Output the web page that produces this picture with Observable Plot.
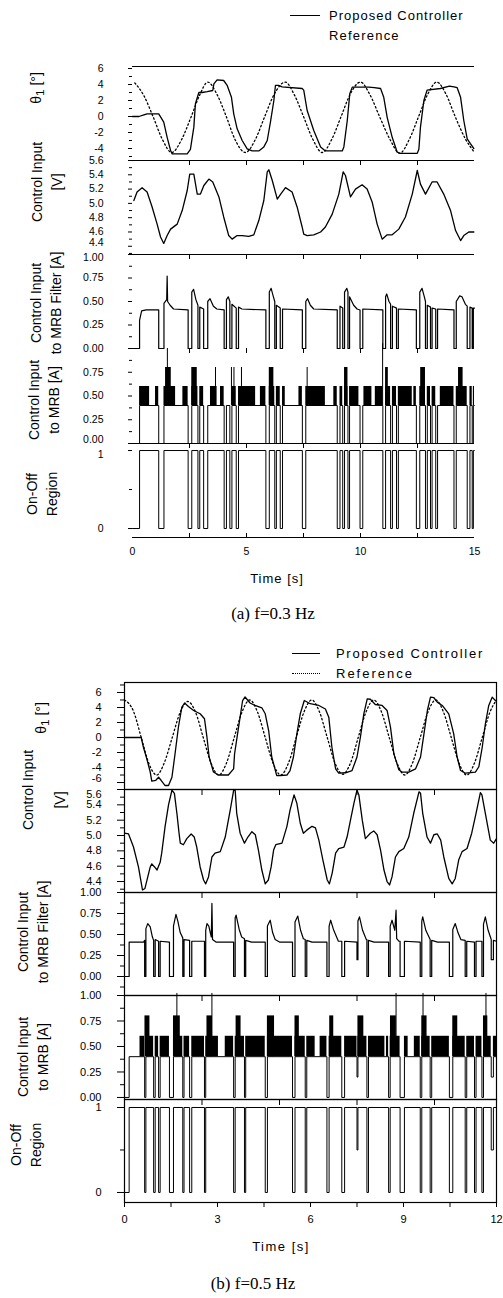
<!DOCTYPE html>
<html><head><meta charset="utf-8">
<script src="https://cdn.jsdelivr.net/npm/d3@7"></script>
<script src="https://cdn.jsdelivr.net/npm/@observablehq/plot@0.6"></script>
<style>
html,body{margin:0;padding:0;background:#fff;}
#root{position:relative;width:503px;height:1298px;overflow:hidden;font-family:'Liberation Sans',Arial,sans-serif;color:#000;}
#root svg{position:absolute;left:0;}
.t{position:absolute;white-space:nowrap;line-height:1;}
.rot{position:absolute;transform:translate(-50%,-50%) rotate(-90deg);white-space:pre;text-align:center;font-size:14px;line-height:20px;}
.cap{position:absolute;transform:translate(-50%,-50%);white-space:nowrap;font-family:'Liberation Serif','Times New Roman',serif;font-size:17px;}
</style></head><body><div id="root"></div>
<script>
// ================= DATA =================
// (a) f = 0.3 Hz   [time s, value]
const thetaPropA = [[0,0],[0.28,0],[0.5,0.2],[0.64,0.33],[1.15,0.33],[1.37,-0.7],[1.52,-2.6],[1.67,-4.25],[1.74,-4.67],[2.40,-4.67],[2.54,-4.1],[2.69,-1.33],[2.76,1.6],[2.91,3.0],[3.05,3.0],[3.28,3.1],[3.52,3.25],[3.57,4.08],[3.71,4.58],[4.0,4.5],[4.15,3.9],[4.34,2.4],[4.44,0.33],[4.59,-1.54],[4.81,-3.0],[5.03,-4.04],[5.25,-4.3],[5.54,-4.3],[5.76,-3.8],[5.91,-3.0],[6.05,-0.7],[6.2,2.0],[6.27,3.9],[6.4,3.9],[6.56,3.7],[7.44,3.5],[7.51,3.3],[7.66,0.75],[7.95,-1.75],[8.25,-3.8],[8.46,-4.3],[9.2,-4.3],[9.27,-3.8],[9.42,-0.5],[9.53,2.84],[9.64,3.67],[10.37,3.67],[10.6,3.6],[10.88,3.5],[11.02,2.4],[11.17,-0.1],[11.39,-2.6],[11.61,-4.46],[11.75,-4.6],[12.49,-4.6],[12.56,-4.1],[12.63,-1.33],[12.78,2.0],[12.92,3.3],[13.5,3.5],[13.9,3.8],[14.1,3.7],[14.24,3.6],[14.39,2.4],[14.53,-0.5],[14.68,-2.8],[14.82,-3.4],[14.97,-4.0]];
const thetaRefA = [[0.1,4.2],[0.5,2.6],[0.9,0.0],[1.3,-2.8],[1.72,-4.5],[2.15,-2.9],[2.55,-0.2],[2.95,2.7],[3.3,4.3],[3.7,2.8],[4.1,0.1],[4.5,-2.9],[4.95,-4.5],[5.4,-2.8],[5.8,0.0],[6.2,2.7],[6.7,4.3],[7.1,2.7],[7.5,0.0],[7.9,-2.8],[8.32,-4.5],[8.75,-2.8],[9.15,0.0],[9.55,2.8],[10.0,4.3],[10.4,2.8],[10.85,-0.1],[11.3,-2.9],[11.72,-4.6],[12.15,-2.8],[12.55,0.0],[12.95,2.8],[13.35,4.3],[13.75,2.8],[14.15,0.0],[14.6,-2.8],[15.0,-4.5]];
const voltA = [[0.06,5.04],[0.2,5.16],[0.42,5.22],[0.64,5.16],[0.86,4.95],[1.08,4.71],[1.23,4.53],[1.37,4.44],[1.52,4.55],[1.67,4.64],[1.96,4.71],[2.18,4.9],[2.40,5.18],[2.51,5.41],[2.69,5.41],[2.84,5.13],[2.98,5.13],[3.13,5.25],[3.35,5.34],[3.52,5.3],[3.79,5.09],[4.0,4.81],[4.22,4.55],[4.37,4.5],[4.59,4.55],[4.81,4.55],[5.1,4.54],[5.32,4.56],[5.54,4.76],[5.76,5.04],[5.91,5.44],[5.98,5.47],[6.13,5.32],[6.35,5.06],[6.5,5.13],[6.71,5.22],[7.0,5.16],[7.22,4.95],[7.44,4.67],[7.51,4.57],[7.66,4.55],[7.95,4.56],[8.25,4.6],[8.46,4.67],[8.76,4.85],[9.05,5.13],[9.24,5.44],[9.34,5.39],[9.56,5.09],[9.78,5.2],[10.07,5.26],[10.29,5.2],[10.51,5.02],[10.73,4.71],[10.95,4.5],[11.17,4.56],[11.39,4.56],[11.68,4.64],[11.97,4.81],[12.27,5.13],[12.49,5.46],[12.63,5.27],[12.85,5.13],[13.14,5.3],[13.36,5.3],[13.65,5.13],[13.95,4.9],[14.17,4.62],[14.39,4.48],[14.53,4.55],[14.75,4.6],[14.97,4.6]];
const filterA = [[0,0],[0.31,0],[0.31,0.3],[0.4,0.4],[0.6,0.41],[1.15,0.41],[1.15,0],[1.38,0],[1.38,0.48],[1.5,0.52],[1.52,0.77],[1.54,0.5],[1.65,0.46],[1.8,0.42],[2.44,0.41],[2.44,0],[2.6,0],[2.6,0.6],[2.68,0.63],[2.78,0.52],[2.87,0.46],[2.87,0],[2.95,0],[2.95,0.44],[3.12,0.42],[3.12,0],[3.3,0],[3.3,0.5],[3.4,0.53],[3.55,0.45],[3.7,0.42],[4.02,0.41],[4.02,0],[4.12,0],[4.12,0.52],[4.2,0.55],[4.27,0.5],[4.27,0],[4.36,0],[4.36,0.47],[4.55,0.43],[4.55,0],[4.65,0],[4.65,0.44],[4.8,0.42],[5.85,0.41],[5.85,0],[6.0,0],[6.0,0.6],[6.08,0.64],[6.18,0.55],[6.24,0.5],[6.24,0],[6.31,0],[6.31,0.46],[6.48,0.43],[6.48,0],[6.58,0],[6.58,0.42],[7.45,0.41],[7.45,0],[7.6,0],[7.6,0.5],[7.68,0.53],[7.8,0.46],[7.95,0.42],[8.98,0.41],[8.98,0],[9.1,0],[9.1,0.45],[9.22,0.43],[9.22,0],[9.3,0],[9.3,0.6],[9.4,0.64],[9.45,0.6],[9.45,0],[9.52,0],[9.52,0.55],[9.7,0.46],[9.85,0.42],[9.98,0.41],[9.98,0],[10.1,0],[10.1,0.42],[10.98,0.41],[10.98,0],[11.1,0],[11.1,0.55],[11.15,0.58],[11.25,0.5],[11.32,0.47],[11.32,0],[11.4,0],[11.4,0.45],[11.58,0.43],[11.58,0],[11.66,0],[11.66,0.42],[12.45,0.41],[12.45,0],[12.6,0],[12.6,0.6],[12.7,0.64],[12.8,0.55],[12.85,0.5],[12.85,0],[12.93,0],[12.93,0.46],[13.07,0.44],[13.07,0],[13.14,0],[13.14,0.43],[13.3,0.42],[13.3,0],[13.38,0],[13.38,0.42],[14.1,0.41],[14.1,0],[14.2,0],[14.2,0.5],[14.35,0.56],[14.45,0.55],[14.6,0.47],[14.68,0.45],[14.68,0],[14.8,0],[14.8,0.44],[14.9,0.43],[14.9,0],[14.95,0],[14.95,0.43],[15,0.43]];
const onoffA = [[0,0],[0.31,1],[1.15,0],[1.38,1],[2.44,0],[2.6,1],[2.87,0],[2.95,1],[3.12,0],[3.3,1],[4.02,0],[4.12,1],[4.27,0],[4.36,1],[4.55,0],[4.65,1],[5.85,0],[6.0,1],[6.24,0],[6.31,1],[6.48,0],[6.58,1],[7.45,0],[7.6,1],[8.98,0],[9.1,1],[9.22,0],[9.3,1],[9.45,0],[9.52,1],[9.98,0],[10.1,1],[10.98,0],[11.1,1],[11.32,0],[11.4,1],[11.58,0],[11.66,1],[12.45,0],[12.6,1],[12.85,0],[12.93,1],[13.07,0],[13.14,1],[13.3,0],[13.38,1],[14.1,0],[14.2,1],[14.68,0],[14.8,1],[14.9,0],[14.95,1],[15,1]];
const mrbBandA = [[0.31,0.75],[1.01,1.15],[1.38,1.89],[2.21,2.44],[2.6,2.87],[2.95,3.12],[3.42,3.71],[3.86,4.02],[4.36,4.55],[4.65,5.4],[5.61,5.85],[6.0,6.24],[6.31,6.48],[6.58,6.7],[7.3,7.45],[7.6,8.46],[8.83,8.98],[9.1,9.22],[9.3,9.45],[9.52,9.93],[10.15,10.5],[10.65,10.98],[11.1,11.32],[11.4,11.58],[11.66,12.27],[12.34,12.45],[12.6,12.85],[12.93,13.07],[13.14,13.3],[13.5,14.1],[14.2,14.68],[14.8,14.9],[14.95,15]];
const mrbHighA = [[1.45,1.7],[2.6,2.84],[6.0,6.2],[9.3,9.45],[11.1,11.22],[12.64,12.85],[14.3,14.5]];
const mrbThinA = [[3.64,0.8],[4.34,0.8],[4.45,0.8],[4.78,0.8],[7.66,0.8],[1.53,1.0],[10.97,1.05]];

// (b) f = 0.5 Hz
const thetaPropB = [[0,0],[0.54,0],[0.61,-1.3],[0.72,-2.85],[0.83,-4.6],[0.88,-5.8],[1.01,-5.7],[1.10,-5.3],[1.18,-5.7],[1.31,-6.4],[1.42,-6.4],[1.53,-5.3],[1.63,-2.2],[1.74,1.4],[1.85,4.04],[1.94,4.6],[2.06,4.13],[2.23,3.6],[2.44,3.16],[2.58,2.5],[2.66,0.04],[2.73,-2.6],[2.87,-4.6],[3.03,-5.0],[3.35,-5.0],[3.52,-4.18],[3.55,-2.2],[3.68,1.38],[3.81,4.93],[3.89,5.4],[4.05,4.6],[4.21,4.27],[4.43,3.96],[4.54,3.16],[4.65,0.93],[4.75,-2.6],[4.91,-5.07],[5.02,-5.07],[5.24,-5.0],[5.34,-4.4],[5.45,-2.6],[5.56,0.49],[5.67,3.16],[5.8,4.93],[5.99,4.5],[6.27,4.27],[6.48,3.8],[6.59,2.71],[6.69,-1.3],[6.81,-4.18],[6.91,-4.76],[7.13,-4.7],[7.34,-4.4],[7.5,-2.6],[7.61,0.04],[7.72,3.16],[7.83,5.16],[7.93,5.1],[8.09,4.4],[8.31,4.27],[8.47,3.6],[8.58,1.38],[8.69,-2.18],[8.85,-4.3],[8.96,-4.62],[9.17,-4.62],[9.39,-4.18],[9.55,-2.6],[9.66,0.49],[9.77,3.6],[9.87,5.38],[9.98,5.3],[10.09,4.71],[10.25,4.27],[10.46,3.16],[10.62,0.49],[10.73,-2.6],[10.84,-4.4],[11.0,-4.76],[11.32,-4.62],[11.43,-3.9],[11.54,-1.3],[11.64,1.8],[11.75,4.27],[11.86,5.38],[11.97,4.9]];
const thetaRefB = [[0,5.0],[0.29,3.5],[0.54,0],[0.79,-3.5],[1.04,-5.0],[1.29,-3.3],[1.54,0],[1.79,3.3],[2.04,4.8],[2.29,3.4],[2.54,0],[2.79,-3.4],[3.04,-5.0],[3.29,-3.4],[3.54,0],[3.79,3.4],[4.04,5.0],[4.29,3.4],[4.54,0],[4.79,-3.4],[5.04,-5.0],[5.29,-3.4],[5.54,0],[5.79,3.4],[6.04,5.0],[6.29,3.4],[6.54,0],[6.79,-3.4],[7.04,-4.9],[7.29,-3.4],[7.54,0],[7.79,3.4],[8.04,5.0],[8.29,3.4],[8.54,0],[8.79,-3.4],[9.04,-5.0],[9.29,-3.4],[9.54,0],[9.79,3.4],[10.04,5.0],[10.29,3.4],[10.54,0],[10.79,-3.4],[11.04,-5.0],[11.29,-3.4],[11.54,0],[11.79,3.4],[12.0,5.0]];
const voltB = [[0,5.03],[0.13,5.02],[0.29,4.85],[0.45,4.59],[0.58,4.29],[0.66,4.31],[0.83,4.59],[0.88,4.63],[0.97,4.59],[1.05,4.55],[1.15,4.65],[1.2,4.77],[1.31,5.12],[1.42,5.4],[1.53,5.59],[1.61,5.55],[1.69,5.29],[1.76,5.03],[1.8,4.9],[1.9,4.88],[2.01,4.96],[2.15,5.02],[2.25,4.98],[2.33,4.85],[2.44,4.59],[2.55,4.42],[2.62,4.37],[2.71,4.46],[2.82,4.72],[2.92,4.77],[3.09,4.79],[3.25,4.98],[3.41,5.33],[3.52,5.59],[3.57,5.59],[3.62,5.29],[3.73,5.03],[3.87,4.9],[3.98,4.98],[4.11,5.05],[4.22,5.01],[4.32,4.81],[4.43,4.55],[4.54,4.37],[4.64,4.42],[4.73,4.59],[4.81,4.81],[4.88,4.88],[5.08,4.9],[5.24,5.12],[5.34,5.33],[5.47,5.53],[5.56,5.42],[5.67,5.16],[5.77,5.03],[5.88,5.07],[6.05,5.12],[6.16,5.1],[6.27,4.94],[6.4,4.68],[6.54,4.42],[6.61,4.37],[6.7,4.51],[6.81,4.77],[6.91,4.83],[7.08,4.85],[7.18,4.98],[7.29,5.2],[7.4,5.42],[7.5,5.59],[7.56,5.53],[7.67,5.2],[7.77,4.96],[7.93,5.03],[8.04,5.06],[8.15,5.01],[8.26,4.81],[8.37,4.55],[8.47,4.4],[8.55,4.355],[8.63,4.46],[8.74,4.72],[8.85,4.79],[9.01,4.83],[9.17,4.98],[9.33,5.29],[9.5,5.57],[9.55,5.55],[9.62,5.29],[9.76,4.98],[9.87,4.9],[9.98,5.01],[10.09,5.02],[10.2,4.94],[10.3,4.72],[10.46,4.44],[10.57,4.37],[10.67,4.44],[10.78,4.68],[10.89,4.79],[11.05,4.83],[11.2,5.03],[11.34,5.29],[11.48,5.56],[11.53,5.53],[11.64,5.29],[11.8,4.94],[11.91,4.9],[12.0,4.96]];
const filterB = [[0,0],[0.15,0],[0.15,0.41],[0.62,0.41],[0.65,0.43],[0.65,0],[0.69,0],[0.69,0.57],[0.75,0.63],[0.83,0.59],[0.9,0.47],[0.94,0.43],[0.94,0],[0.99,0],[0.99,0.44],[1.1,0.42],[1.1,0],[1.15,0],[1.15,0.42],[1.45,0.41],[1.45,0],[1.58,0],[1.58,0.6],[1.66,0.74],[1.72,0.66],[1.8,0.52],[1.88,0.46],[1.88,0],[1.92,0],[1.92,0.44],[2.1,0.43],[2.1,0],[2.17,0],[2.17,0.42],[2.58,0.42],[2.58,0],[2.62,0],[2.62,0.55],[2.66,0.63],[2.72,0.6],[2.8,0.47],[2.82,0.87],[2.84,0.44],[2.95,0.41],[3.52,0.41],[3.52,0],[3.57,0],[3.57,0.7],[3.6,0.73],[3.7,0.56],[3.78,0.47],[3.87,0.45],[3.87,0],[3.91,0],[3.91,0.43],[4.1,0.41],[4.54,0.41],[4.54,0],[4.61,0],[4.61,0.6],[4.7,0.67],[4.78,0.52],[4.86,0.44],[5.0,0.41],[5.42,0.41],[5.42,0],[5.5,0],[5.5,0.65],[5.59,0.72],[5.68,0.55],[5.77,0.45],[5.83,0.44],[5.83,0],[5.88,0],[5.88,0.43],[6.05,0.41],[6.53,0.41],[6.53,0],[6.6,0],[6.6,0.6],[6.65,0.67],[6.75,0.55],[6.9,0.42],[7.01,0.42],[7.01,0],[7.1,0],[7.1,0.42],[7.5,0.41],[7.5,0.2],[7.53,0.2],[7.53,0.66],[7.58,0.71],[7.68,0.55],[7.8,0.44],[7.82,0.44],[7.82,0],[7.87,0],[7.87,0.43],[8.05,0.41],[8.52,0.41],[8.52,0],[8.57,0],[8.57,0.6],[8.63,0.67],[8.72,0.55],[8.76,0.79],[8.78,0.45],[8.85,0.42],[8.89,0.42],[8.89,0],[9.03,0],[9.03,0.42],[9.54,0.41],[9.54,0],[9.59,0],[9.59,0.66],[9.62,0.71],[9.72,0.55],[9.86,0.44],[9.86,0],[9.91,0],[9.91,0.43],[10.1,0.41],[10.48,0.41],[10.48,0],[10.59,0],[10.59,0.56],[10.67,0.63],[10.76,0.52],[10.85,0.44],[10.99,0.43],[10.99,0],[11.04,0],[11.04,0.42],[11.29,0.41],[11.29,0],[11.34,0],[11.34,0.42],[11.53,0.42],[11.53,0],[11.58,0],[11.58,0.62],[11.64,0.71],[11.73,0.55],[11.83,0.44],[11.83,0.2],[11.9,0.2],[11.9,0.43],[12,0.42]];
const onoffB = [[0,0],[0.15,1],[0.65,0],[0.69,1],[0.94,0],[0.99,1],[1.1,0],[1.15,1],[1.45,0],[1.58,1],[1.88,0],[1.92,1],[2.1,0],[2.17,1],[2.58,0],[2.62,1],[3.52,0],[3.57,1],[3.87,0],[3.91,1],[4.54,0],[4.61,1],[5.42,0],[5.5,1],[5.83,0],[5.88,1],[6.53,0],[6.6,1],[7.01,0],[7.1,1],[7.5,0.5],[7.53,1],[7.82,0],[7.87,1],[8.52,0],[8.57,1],[8.89,0],[9.03,1],[9.54,0],[9.59,1],[9.86,0],[9.91,1],[10.48,0],[10.59,1],[10.99,0],[11.04,1],[11.29,0],[11.34,1],[11.53,0],[11.58,1],[11.83,0.5],[11.9,1],[12,1]];
const mrbBandB = [[0.5,0.65],[0.69,0.94],[0.99,1.1],[1.15,1.45],[1.58,1.88],[1.92,2.1],[2.17,2.58],[2.62,3.03],[3.25,3.52],[3.57,3.87],[3.91,4.54],[4.61,5.42],[5.5,5.83],[5.88,6.15],[6.31,6.53],[6.6,7.01],[7.1,7.5],[7.53,7.82],[7.87,8.4],[8.45,8.52],[8.57,8.89],[9.03,9.15],[9.35,9.54],[9.59,9.86],[9.91,10.48],[10.59,10.99],[11.04,11.29],[11.34,11.53],[11.58,11.83],[11.9,12]];
const mrbHighB = [[0.66,0.82],[1.58,1.8],[2.66,2.84],[3.6,3.76],[4.61,4.84],[5.5,5.64],[6.62,6.75],[7.53,7.72],[8.58,8.77],[9.59,9.76],[10.59,10.75],[11.58,11.72]];
const mrbThinB = [[1.69,1.02],[2.82,1.02],[8.76,1.02],[9.63,1.02],[11.66,1.02]];

// signal levels of the MRB current [A]
const MRB_BASE = 0.4, MRB_SW = 0.6, MRB_HI = 0.8;

// tick labels
const tA = {theta:[6,4,2,0,-2,-4], volt:[5.6,5.4,5.2,5.0,4.8,4.6,4.4], filt:[1,0.75,0.5,0.25,0], mrb:[0.75,0.5,0.25,0], onoff:[1,0], x:[0,5,10,15]};
const mA = {theta:[5,3,1,-1,-3,-5], volt:[5.5,5.3,5.1,4.9,4.7,4.5,4.3], filt:[0.875,0.625,0.375,0.125], mrb:[0.875,0.625,0.375,0.125], onoff:[0.5], x:[2.5,5,7.5,10,12.5]};
const tB = {theta:[6,4,2,0,-2,-4,-6], volt:[5.6,5.4,5.2,5.0,4.8,4.6,4.4], filt:[1,0.75,0.5,0.25,0], mrb:[1,0.75,0.5,0.25,0], onoff:[1,0], x:[0,3,6,9,12]};
const mB = {theta:[7,5,3,1,-1,-3,-5], volt:[5.5,5.3,5.1,4.9,4.7,4.5,4.3], filt:[0.875,0.625,0.375,0.125,-0.125], mrb:[0.875,0.625,0.375,0.125], onoff:[0.5], x:[2.5,5,7.5,10], xb:[0,1.5,3,4.5,6,7.5,9,10.5,12]};

const yLabelsA = ["θ<sub>1</sub> [°]", "Control Input\n[V]", "Control Input\nto MRB Filter [A]", "Control Input\nto MRB [A]", "On-Off\nRegion"];
const yLabelsB = ["θ<sub>1</sub> [°]", "Control Input", "[V]", "Control Input\nto MRB Filter [A]", "Control Input\nto MRB [A]", "On-Off\nRegion"];
const legendNames = ["Proposed Controller", "Reference"];
const xTitle = "Time [s]";
const captions = ["(a) f=0.3 Hz", "(b) f=0.5 Hz"];

// ================= DRAW =================
const root = document.getElementById("root");
const W = 503;
const FONT = "'Liberation Sans', Arial, sans-serif";
const X = d => d[0], Y = d => d[1];

function panel(o) {
  const svg = Plot.plot({
    width: W, height: o.h + (o.mb || 0),
    marginLeft: o.x0, marginRight: W - o.x1, marginTop: 0, marginBottom: o.mb || 0,
    x: {domain: o.xd, axis: null},
    y: {domain: o.yd, axis: null},
    style: {background: "transparent", overflow: "visible", fontFamily: FONT, fontSize: o.fs || "11px", color: "#000"},
    marks: o.marks
  });
  svg.style.top = o.top + "px";
  root.appendChild(svg);
}
// major labelled ticks + minor ticks; labels listed in `shift` are nudged vertically (dy) to keep them legible
function yAxis(major, minor, fmt, s, p, ms, shift) {
  const sh = new Map(Object.entries(shift || {}).map(([k, v]) => [+k, v]));
  const marks = [
    Plot.axisY({ticks: major, tickSize: s, tickPadding: p, tickFormat: d => sh.has(d) ? "" : fmt(d), label: null}),
    Plot.axisY({ticks: minor, tickSize: ms, tickPadding: 0, tickFormat: () => "", label: null})
  ];
  for (const [v, dy] of sh) {
    marks.push(Plot.text([v], {y: d => d, frameAnchor: "left", dx: -(s + p), dy, textAnchor: "end", text: d => fmt(d)}));
  }
  return marks;
}
const topTicks = (xs, h, len) => Plot.ruleX(xs, {insetBottom: h - len, strokeWidth: 1});
const botTicksUp = (xs, h, len) => Plot.ruleX(xs, {insetTop: h - len, strokeWidth: 1});
const f1 = d => d.toFixed(1), f2 = d => d.toFixed(2), fs = d => String(d);

function addDiv(cls, html, x, y, extra) {
  const d = document.createElement("div");
  d.className = cls; d.innerHTML = html;
  d.style.left = x + "px"; d.style.top = y + "px";
  if (extra) Object.assign(d.style, extra);
  root.appendChild(d);
  return d;
}

// ---------- (a) ----------
{
  const x0 = 132, x1 = 474, xd = [0, 15];
  const fs_ = "10.5px";
  const sA = 4, pA = 25, msA = 3;
  const P = [
    {top: 66, h: 94, yd: [-5.5, 6.25]},
    {top: 160, h: 94, yd: [4.285, 5.6]},
    {top: 254, h: 94, yd: [0, 1]},
    {top: 348, h: 95, yd: [0, 1]},
    {top: 443, h: 94, yd: [-0.115, 1.09]}
  ];
  panel({...P[0], x0, x1, xd, fs: fs_, marks: [
    Plot.ruleY([P[0].yd[1]], {strokeWidth: 1.2}),
    ...yAxis(tA.theta, mA.theta, fs, sA, pA, msA),
    Plot.line(thetaRefA, {x: X, y: Y, curve: "monotone-x", strokeDasharray: "1.5,2.5", strokeWidth: 1.3}),
    Plot.line(thetaPropA, {x: X, y: Y, strokeWidth: 1.3})
  ]});
  panel({...P[1], x0, x1, xd, fs: fs_, marks: [
    Plot.ruleY([P[1].yd[1]], {strokeWidth: 1.2}),
    topTicks(mA.x, P[1].h, 5),
    ...yAxis(tA.volt, mA.volt, f1, sA, pA, msA, {4.4: -4}),
    Plot.line(voltA, {x: X, y: Y, strokeWidth: 1.3})
  ]});
  panel({...P[2], x0, x1, xd, fs: fs_, marks: [
    Plot.ruleY([P[2].yd[1]], {strokeWidth: 1.2}),
    topTicks(mA.x, P[2].h, 5),
    ...yAxis(tA.filt, mA.filt, f2, sA, pA, msA, {1: 3}),
    Plot.line(filterA, {x: X, y: Y, strokeWidth: 1.2})
  ]});
  panel({...P[3], x0, x1, xd, fs: fs_, marks: [
    topTicks(mA.x, P[3].h, 5),
    ...yAxis(tA.mrb, mA.mrb, f2, sA, pA, msA, {0: -4}),
    Plot.rect(mrbBandA, {x1: X, x2: Y, y1: () => MRB_BASE, y2: () => MRB_SW, fill: "#000"}),
    Plot.rect(mrbHighA, {x1: X, x2: Y, y1: () => MRB_BASE, y2: () => MRB_HI, fill: "#000"}),
    Plot.ruleX(mrbThinA, {x: X, y1: () => MRB_BASE, y2: Y, strokeWidth: 1}),
    Plot.line(onoffA.map(([t, s]) => [t, s * MRB_BASE]), {x: X, y: Y, curve: "step-after", strokeWidth: 1}),
    Plot.ruleY([0], {strokeWidth: 1.2})
  ]});
  panel({...P[4], x0, x1, xd, fs: fs_, mb: 40, marks: [
    topTicks(mA.x, P[4].h, 5),
    botTicksUp(mA.x, P[4].h, 4),
    Plot.ruleY([P[4].yd[0]], {strokeWidth: 1.2}),
    ...yAxis(tA.onoff, mA.onoff, fs, sA, pA, msA, {1: 4}),
    Plot.line(onoffA, {x: X, y: Y, curve: "step-after", strokeWidth: 1}),
    Plot.axisX({ticks: tA.x, tickSize: 0, tickPadding: 10, tickFormat: fs, label: null})
  ]});

  // y labels
  addDiv("rot", yLabelsA[0], 38, 88);
  addDiv("rot", yLabelsA[1], 47, 182);
  addDiv("rot", yLabelsA[2], 46, 303);
  addDiv("rot", yLabelsA[3], 44, 400);
  addDiv("rot", yLabelsA[4], 42, 494);
  // legend
  addDiv("t", "", 290, 15, {width: "30px", borderTop: "1.3px solid #000", height: "0"});
  addDiv("t", legendNames[0], 329, 15, {transform: "translate(0,-50%)", fontSize: "13px", letterSpacing: "1px"});
  addDiv("t", legendNames[1], 329, 35, {transform: "translate(0,-50%)", fontSize: "13px", letterSpacing: "1.2px"});
  addDiv("t", xTitle, 277, 578, {transform: "translate(-50%,-50%)", fontSize: "13px", letterSpacing: "1px"});
  addDiv("cap", captions[0], 273, 614);
}

// ---------- (b) ----------
{
  const x0 = 124, x1 = 496, xd = [0, 12];
  const sB = 7, pB = 16, msB = 4;
  const P = [
    {top: 682, h: 107, yd: [-6.93, 7.33]},
    {top: 789, h: 103, yd: [4.257, 5.6]},
    {top: 892, h: 103, yd: [-0.226, 1]},
    {top: 995, h: 104, yd: [-0.02, 1]},
    {top: 1099, h: 103, yd: [-0.118, 1.094]}
  ];
  const fr = Plot.frame({stroke: "#000", strokeWidth: 1.2});
  panel({...P[0], x0, x1, xd, marks: [
    ...yAxis(tB.theta, mB.theta, fs, sB, pB, msB, {"-6": -4}),
    Plot.line(thetaRefB, {x: X, y: Y, curve: "monotone-x", strokeDasharray: "1.5,2.5", strokeWidth: 1.3}),
    Plot.line(thetaPropB, {x: X, y: Y, strokeWidth: 1.3}),
    fr
  ]});
  panel({...P[1], x0, x1, xd, marks: [
    topTicks(mB.x, P[1].h, 6),
    ...yAxis(tB.volt, mB.volt, f1, sB, pB, msB, {5.6: 5}),
    Plot.line(voltB, {x: X, y: Y, strokeWidth: 1.3}),
    fr
  ]});
  panel({...P[2], x0, x1, xd, marks: [
    topTicks(mB.x, P[2].h, 6),
    ...yAxis(tB.filt, mB.filt, f2, sB, pB, msB),
    Plot.line(filterB, {x: X, y: Y, strokeWidth: 1.2}),
    fr
  ]});
  panel({...P[3], x0, x1, xd, marks: [
    topTicks(mB.x, P[3].h, 6),
    ...yAxis(tB.mrb, mB.mrb, f2, sB, pB, msB),
    Plot.rect(mrbBandB, {x1: X, x2: Y, y1: () => MRB_BASE, y2: () => MRB_SW, fill: "#000"}),
    Plot.rect(mrbHighB, {x1: X, x2: Y, y1: () => MRB_BASE, y2: () => MRB_HI, fill: "#000"}),
    Plot.ruleX(mrbThinB, {x: X, y1: () => MRB_BASE, y2: Y, strokeWidth: 1}),
    Plot.line(onoffB.map(([t, s]) => [t, s * MRB_BASE]), {x: X, y: Y, curve: "step-after", strokeWidth: 1}),
    fr
  ]});
  panel({...P[4], x0, x1, xd, mb: 40, marks: [
    topTicks(mB.x, P[4].h, 6),
    ...yAxis(tB.onoff, mB.onoff, fs, sB, pB, msB),
    Plot.line(onoffB, {x: X, y: Y, curve: "step-after", strokeWidth: 1}),
    fr,
    Plot.axisX({ticks: mB.xb, tickSize: 5, tickPadding: 8, tickFormat: d => tB.x.includes(d) ? String(d) : "", label: null})
  ]});

  addDiv("rot", yLabelsB[0], 43, 718);
  addDiv("rot", yLabelsB[1], 28, 790);
  addDiv("rot", yLabelsB[2], 60, 800);
  addDiv("rot", yLabelsB[3], 33, 932);
  addDiv("rot", yLabelsB[4], 33, 1057);
  addDiv("rot", yLabelsB[5], 26, 1145);
  // legend
  addDiv("t", "", 292, 653, {width: "28px", borderTop: "1.3px solid #000", height: "0"});
  addDiv("t", "", 292, 673, {width: "28px", borderTop: "1.5px dotted #000", height: "0"});
  addDiv("t", legendNames[0], 336, 653, {transform: "translate(0,-50%)", fontSize: "13px", letterSpacing: "1.7px"});
  addDiv("t", legendNames[1], 336, 673, {transform: "translate(0,-50%)", fontSize: "13px", letterSpacing: "2px"});
  addDiv("t", xTitle, 281, 1246, {transform: "translate(-50%,-50%)", fontSize: "13px", letterSpacing: "1.5px"});
  addDiv("cap", captions[1], 253, 1284);
}
</script></body></html>
